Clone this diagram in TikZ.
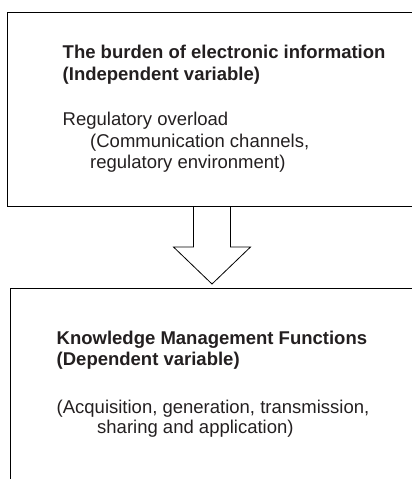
\documentclass[tikz,border=0pt]{standalone}
\usepackage{fontspec}
\setmainfont{Liberation Sans}
\usetikzlibrary{calc}
\definecolor{ink}{HTML}{231F20}
\begin{document}
\begin{tikzpicture}[x=1pt,y=-1pt,
  frame/.style={draw=black, line width=1pt, rectangle, anchor=north west, inner sep=0pt},
  txt/.style={anchor=base west, inner sep=0pt, text=ink, font=\fontsize{18.5}{21.5}\selectfont},
  headline/.style={txt, font=\fontsize{18.5}{21.5}\selectfont\bfseries},
  blockarrow/.style={draw=black, line width=0.8pt, fill=white, line join=miter}]
\useasboundingbox (0,0) rectangle (412,479);
\clip (0,0) rectangle (412,479);

% the two boxes run on past the right (and lower) edge
\node[frame, minimum width=420pt, minimum height=194pt] (src) at (7,12) {};
\node[frame, minimum width=420pt, minimum height=220pt] (dst) at (10,287.5) {};

% hollow block arrow from the upper box down to the lower one
\path (src.south) ++(-5.5,0) coordinate (stop);
\path (dst.north) ++(-8.5,-3.5) coordinate (tip);
\draw[blockarrow] ($(stop)+(-18.5,0)$) -- ($(stop)+(-18.5,40)$) -- ($(stop)+(-38.5,40)$)
  -- (tip) -- ($(stop)+(38.5,40)$) -- ($(stop)+(18.5,40)$) -- ($(stop)+(18.5,0)$);

% upper box text
\node[headline] (t1) at (62.5,58.5) {The burden of electronic information};
\node[headline] (t2) at (62.5,80) {(Independent variable)};
\node[txt] (t3) at (62.5,125.5) {Regulatory overload};
\node[txt] (t4) at (90,147) {(Communication channels,};
\node[txt] (t5) at (90,168.5) {regulatory environment)};

% lower box text
\node[headline] (b1) at (56.5,344) {Knowledge Management Functions};
\node[headline] (b2) at (56.5,365) {(Dependent variable)};
\node[txt] (b3) at (56.5,413) {(Acquisition, generation, transmission,};
\node[txt] (b4) at (97,433.5) {sharing and application)};
\end{tikzpicture}
\end{document}
